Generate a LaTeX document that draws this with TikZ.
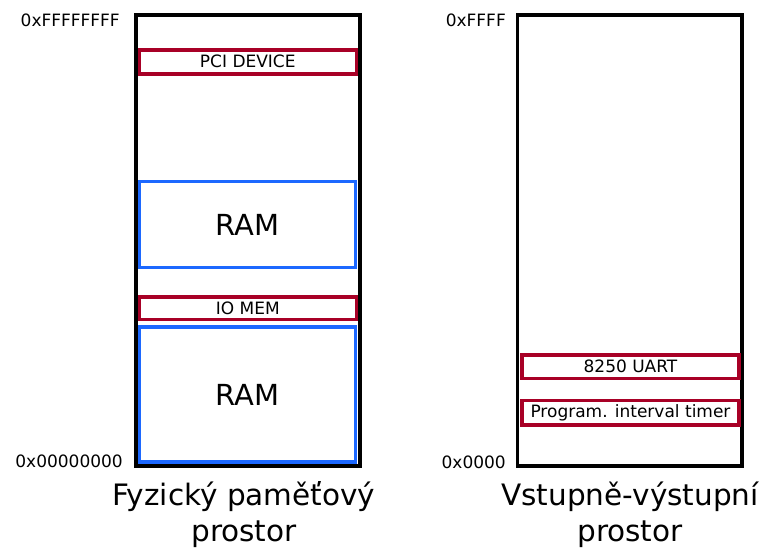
\documentclass[tikz,border=0pt]{standalone}
\usepackage{fontspec}
\setmainfont{DejaVu Sans}
\definecolor{devred}{RGB}{168,0,38}
\definecolor{ramblue}{RGB}{28,104,255}
\tikzset{
  space/.style={draw=black, line width=3.8pt, minimum width=224.3pt, minimum height=451pt, inner sep=0pt},
  devbox/.style={draw=devred, line width=3.6pt, minimum width=217pt, inner sep=0pt, font=\fontsize{17}{20}\selectfont},
  rambox/.style={draw=ramblue, line width=3.3pt, minimum width=216pt, inner sep=0pt, font=\fontsize{29}{34}\selectfont},
  addr/.style={inner sep=0pt, font=\fontsize{17}{20}\selectfont},
  title/.style={inner sep=0pt, align=center, font=\fontsize{29.5}{36}\selectfont}
}
\begin{document}
\begin{tikzpicture}[x=1pt,y=-1pt]
\useasboundingbox (0,0) rectangle (771,549);
% physical address space
\node[space] (phys) at (247.85,240.2) {};
\node[devbox, minimum height=24.1pt] (pci) at (247.8,61.75) {PCI DEVICE};
\node[rambox, minimum height=86pt] (ram1) at (247.6,224.7) {RAM};
\node[devbox, minimum height=22.5pt] (iomem) at (247.8,308.2) {IO MEM};
\node[rambox, minimum height=135pt] (ram2) at (247.6,394.5) {RAM};
\node[addr, anchor=base east] (ptop) at (120,26) {0xFFFFFFFF};
\node[addr, anchor=base east] (pbot) at (123,467.5) {0x00000000};
\node[title, anchor=base] (ptitle) at (244,541) {Fyzický paměťový\\prostor};
% I/O space
\node[space] (io) at (629.65,240.2) {};
\node[devbox, minimum height=23.6pt] (uart) at (630.5,366.5) {8250 UART};
\node[devbox, minimum height=24.7pt] (pit) at (630.5,412.7) {Program. interval timer};
\node[addr, anchor=base east] (itop) at (506,26) {0xFFFF};
\node[addr, anchor=base east] (ibot) at (506,468) {0x0000};
\node[title, anchor=base] (ititle) at (630,541) {Vstupně-výstupní\\prostor};
\end{tikzpicture}
\end{document}
